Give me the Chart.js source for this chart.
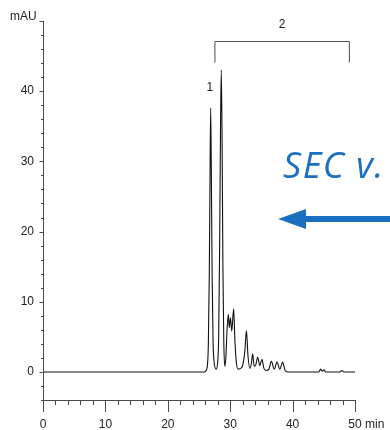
<!DOCTYPE html>
<html>
<head>
<meta charset="utf-8">
<script src="https://cdn.jsdelivr.net/npm/chart.js@4.4.1/dist/chart.umd.min.js"></script>
<style>
  html, body { margin: 0; padding: 0; background: #fff; }
</style>
</head>
<body>
<canvas id="chrom" width="390" height="430"></canvas>
<script>
// chromatogram trace (min, mAU)
const retentionMin = [
  0, 20, 25.9, 26.3, 26.5, 26.65, 26.77, 26.87, 26.98, 27.1, 27.25, 27.45, 27.75,
  27.98, 28.15, 28.3, 28.45, 28.57, 28.7, 28.83, 28.97, 29.12,
  29.3, 29.5, 29.7, 29.85, 30.05, 30.25, 30.55, 30.75, 31.0, 31.3,
  31.9, 32.15, 32.35, 32.6, 32.85, 33.15,
  33.4, 33.6, 33.85, 34.1, 34.4, 34.75, 35.1, 35.4, 35.8,
  36.2, 36.6, 37.05, 37.5, 37.95, 38.4, 38.8, 39.2,
  44.2, 44.5, 44.75, 45.0, 45.3, 47.6, 47.9, 48.2, 50
];
const signalMau = [
  0, 0, 0, 0.6, 4, 14, 28, 37.6, 28, 14, 4.5, 1.2, 0.4,
  1.2, 5, 17, 35, 43, 33, 15, 4.5, 0.8,
  2, 6, 8.2, 6.3, 7.7, 5.8, 9.0, 4.5, 1.2, 0.4,
  0.7, 1.6, 3.0, 5.9, 2.3, 0.5,
  1.2, 2.6, 0.8, 1.0, 2.1, 0.9, 1.8, 0.5, 0.2,
  0.4, 1.5, 0.4, 1.4, 0.4, 1.4, 0.2, 0,
  0, 0.4, 0.1, 0.3, 0, 0, 0.2, 0, 0
];
const xTickLabels = [0, 10, 20, 30, 40, 50];
const yTickLabels = [0, 10, 20, 30, 40];
const peakOneLabel = { t: 26.75, mau: 40.5, text: '1' };
const peakTwoBracket = { from: 27.55, to: 49.1, top: 47.2, foot: 44.1, text: '2' };

const points = retentionMin.map((t, i) => ({ x: t, y: signalMau[i] }));

const FONT = '"Liberation Sans", Arial, sans-serif';
const INK = '#222';
const AXIS = '#4a4a4a';
const BLUE = '#1a6fbf';

const drawFrame = {
  id: 'drawFrame',
  afterDraw(chart) {
    const ctx = chart.ctx;
    const xs = chart.scales.x;
    const ys = chart.scales.y;
    const x0 = xs.getPixelForValue(0);
    const xEnd = xs.getPixelForValue(50);
    const yBottom = ys.getPixelForValue(-4);
    const yTop = ys.getPixelForValue(50);

    ctx.save();
    ctx.strokeStyle = AXIS;
    ctx.lineWidth = 1;

    // y axis with ticks every 2 mAU
    ctx.beginPath();
    ctx.moveTo(x0 + 0.5, yTop);
    ctx.lineTo(x0 + 0.5, yBottom + 12);
    for (let v = -4; v <= 50; v += 2) {
      const py = Math.round(ys.getPixelForValue(v)) + 0.5;
      const len = v % 10 === 0 ? 4 : 2.5;
      ctx.moveTo(x0 + 0.5 - len, py);
      ctx.lineTo(x0 + 0.5, py);
    }
    // x axis with ticks every 2 min
    ctx.moveTo(x0, Math.round(yBottom) + 0.5);
    ctx.lineTo(xEnd + 0.5, Math.round(yBottom) + 0.5);
    for (let t = 2; t <= 50; t += 2) {
      const px = Math.round(xs.getPixelForValue(t)) + 0.5;
      const len = t % 10 === 0 ? 12 : 5;
      ctx.moveTo(px, yBottom);
      ctx.lineTo(px, yBottom + len);
    }
    ctx.stroke();

    ctx.fillStyle = INK;
    ctx.font = '12px ' + FONT;
    ctx.textAlign = 'right';
    ctx.textBaseline = 'middle';
    yTickLabels.forEach((v) => {
      ctx.fillText(String(v), x0 - 9, ys.getPixelForValue(v));
    });
    ctx.textAlign = 'left';
    ctx.fillText('mAU', 10, yTop - 4);

    ctx.textAlign = 'center';
    xTickLabels.forEach((t) => {
      ctx.fillText(String(t), xs.getPixelForValue(t), yBottom + 25);
    });
    ctx.textAlign = 'left';
    ctx.fillText('min', xEnd + 10, yBottom + 25);

    // peak annotations
    ctx.textAlign = 'center';
    ctx.fillText(peakOneLabel.text, xs.getPixelForValue(peakOneLabel.t), ys.getPixelForValue(peakOneLabel.mau));
    const bl = xs.getPixelForValue(peakTwoBracket.from);
    const br = xs.getPixelForValue(peakTwoBracket.to);
    const bt = Math.round(ys.getPixelForValue(peakTwoBracket.top)) + 0.5;
    const bf = ys.getPixelForValue(peakTwoBracket.foot);
    ctx.beginPath();
    ctx.moveTo(bl, bf);
    ctx.lineTo(bl, bt);
    ctx.lineTo(br, bt);
    ctx.lineTo(br, bf);
    ctx.stroke();
    ctx.fillText(peakTwoBracket.text, (bl + br) / 2, bt - 17);

    // slide overlay: blue note and arrow
    ctx.fillStyle = BLUE;
    ctx.font = 'italic 36px "Open Sans", sans-serif';
    ctx.textAlign = 'left';
    ctx.textBaseline = 'alphabetic';
    ctx.letterSpacing = '1.5px';
    ctx.fillText('SEC v.', 283, 178);
    ctx.letterSpacing = '0px';

    ctx.strokeStyle = BLUE;
    ctx.lineWidth = 6;
    ctx.beginPath();
    ctx.moveTo(300, 219);
    ctx.lineTo(392, 219);
    ctx.stroke();
    ctx.beginPath();
    ctx.moveTo(278, 219);
    ctx.lineTo(306, 209);
    ctx.lineTo(306, 229);
    ctx.closePath();
    ctx.fill();
    ctx.restore();
  }
};

new Chart(document.getElementById('chrom'), {
  type: 'line',
  data: {
    datasets: [{
      data: points,
      borderColor: '#111',
      borderWidth: 1.1,
      pointRadius: 0,
      fill: false,
      cubicInterpolationMode: 'monotone'
    }]
  },
  options: {
    responsive: false,
    animation: false,
    layout: { padding: { left: 43, right: 35, top: 21, bottom: 30 } },
    plugins: { legend: { display: false }, tooltip: { enabled: false } },
    scales: {
      x: { type: 'linear', min: 0, max: 50, display: false },
      y: { min: -4, max: 50, display: false }
    }
  },
  plugins: [drawFrame]
});
</script>
</body>
</html>
